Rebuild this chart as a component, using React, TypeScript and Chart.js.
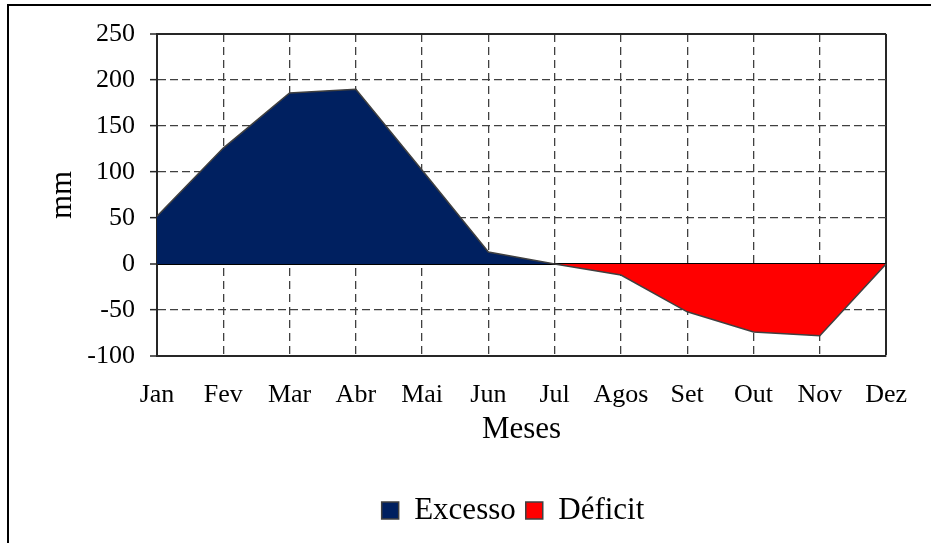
import React, { useEffect, useRef } from "react";
import { Chart, registerables } from "chart.js";

Chart.register(...registerables);

const months = ["Jan", "Fev", "Mar", "Abr", "Mai", "Jun", "Jul", "Agos", "Set", "Out", "Nov", "Dez"];
const excesso = [52, 126, 186, 190, 102, 13, 0, null, null, null, null, null];
const deficit = [null, null, null, null, null, null, 0, -12, -52, -74, -78, 0];
const yMin = -100;
const yMax = 250;
const yStep = 50;

const FONT = "'Liberation Serif', 'Times New Roman', serif";

export default function App() {
  const ref = useRef<HTMLCanvasElement | null>(null);

  useEffect(() => {
    if (!ref.current) return;
    const chart = new Chart(ref.current, {
      type: "line",
      data: {
        labels: months,
        datasets: [
          {
            label: "Excesso",
            data: excesso,
            backgroundColor: "#002060",
            borderColor: "#404040",
            borderWidth: 1.5,
            fill: "origin",
            pointRadius: 0,
            tension: 0,
            yAxisID: "y",
          },
          {
            label: "Déficit",
            data: deficit,
            backgroundColor: "#FF0000",
            borderColor: "#404040",
            borderWidth: 1.5,
            fill: "origin",
            pointRadius: 0,
            tension: 0,
            yAxisID: "y",
          },
        ],
      },
      options: {
        responsive: false,
        animation: false,
        layout: { padding: { left: 40, right: -55, top: 34, bottom: 7 } },
        plugins: {
          tooltip: { enabled: false },
          legend: {
            position: "bottom",
            labels: {
              font: { family: FONT, size: 31 },
              color: "#000",
              boxWidth: 17,
              boxHeight: 17,
              padding: 10,
            },
          },
        },
        scales: {
          x: {
            offset: false,
            afterFit: (s: any) => {
              s.height = 129;
            },
            grid: {
              drawTicks: false,
              color: (ctx: any) => (ctx.index === 11 ? "#262626" : "#404040"),
              lineWidth: (ctx: any) => (ctx.index === 11 ? 2 : 1.3),
            },
            border: {
              display: true,
              color: "#262626",
              width: 2,
              dash: (ctx: any) => (ctx.index === 11 || ctx.index === 0 ? [] : [8, 5]),
            },
            ticks: {
              font: { family: FONT, size: 26 },
              color: "#000",
              padding: 24,
              maxRotation: 0,
              autoSkip: false,
            },
            title: {
              display: true,
              text: "Meses",
              font: { family: FONT, size: 31 },
              color: "#000",
              padding: { top: 0, bottom: 37 },
            },
          },
          y: {
            position: "left",
            min: yMin,
            max: yMax,
            afterFit: (s: any) => {
              s.width = 117;
            },
            grid: {
              drawTicks: true,
              tickLength: 7,
              tickColor: "#262626",
              tickWidth: 1.5,
              tickBorderDash: [],
              color: (ctx: any) => {
                const v = ctx.tick ? ctx.tick.value : null;
                if (v === 0) return "#000";
                if (v === yMax || v === yMin) return "#262626";
                return "#404040";
              },
              lineWidth: (ctx: any) => {
                const v = ctx.tick ? ctx.tick.value : null;
                if (v === 0 || v === yMax || v === yMin) return 2;
                return 1.3;
              },
            },
            border: {
              display: true,
              color: "#262626",
              width: 2,
              dash: (ctx: any) => {
                const v = ctx.tick ? ctx.tick.value : null;
                if (v === 0 || v === yMax || v === yMin) return [];
                return [8, 4];
              },
            },
            ticks: {
              stepSize: yStep,
              font: { family: FONT, size: 26 },
              color: "#000",
              padding: 15,
            },
            title: {
              display: true,
              text: "mm",
              font: { family: FONT, size: 31 },
              color: "#000",
              padding: { top: 4, bottom: 0 },
            },
          },
          spacer: {
            type: "linear",
            position: "right",
            display: true,
            afterFit: (s: any) => {
              s.width = 94;
            },
            grid: { display: false, drawTicks: false },
            border: { display: false },
            ticks: { display: false },
          },
        },
      },
    });
    return () => chart.destroy();
  }, []);

  return (
    <div style={{ position: "absolute", left: 0, top: 0, width: 931, height: 543, overflow: "hidden", background: "#fff" }}>
      <canvas ref={ref} width={931} height={543} style={{ position: "absolute", left: 0, top: 0 }} />
      <div
        style={{
          position: "absolute",
          left: 7,
          top: 4,
          width: 940,
          height: 560,
          borderLeft: "2px solid #000",
          borderTop: "2px solid #000",
          pointerEvents: "none",
        }}
      />
    </div>
  );
}
